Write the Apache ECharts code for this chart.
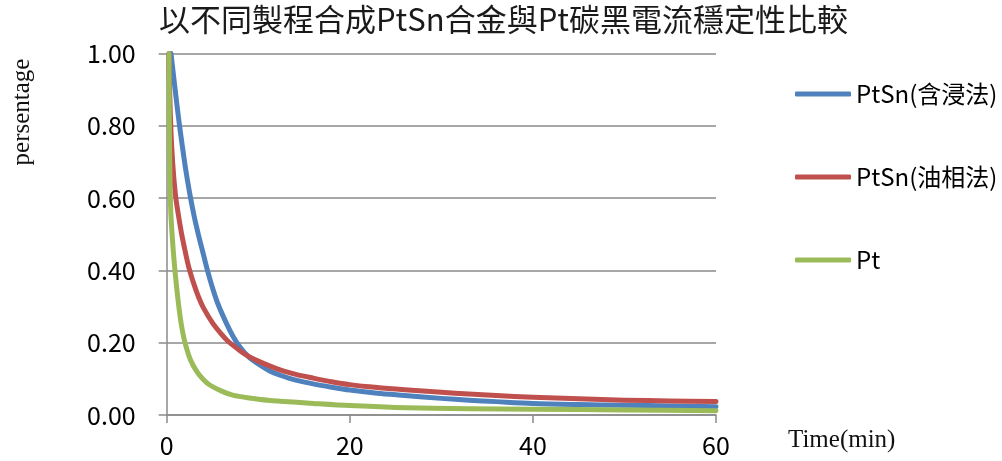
<!DOCTYPE html>
<html>
<head>
<meta charset="utf-8">
<script src="https://cdn.jsdelivr.net/npm/echarts@6/dist/echarts.min.js"></script>
<style>
  html, body { margin: 0; padding: 0; background: #fff; }
  #chart { width: 1002px; height: 461px; }
</style>
</head>
<body>
<div id="chart"></div>
<script>
// Current stability: normalised current vs time (min)
const seriesNames = ['PtSn(含浸法)', 'PtSn(油相法)', 'Pt'];

const timeImpregnation = [0.47, 0.9, 1.3, 1.7, 2.1, 2.5, 3.0, 3.5, 4.0, 4.4, 5.0, 5.6, 6.5, 7.3, 8.0, 8.9, 10, 11.3, 12.4, 14, 16, 18, 20, 23, 26, 30, 33, 36, 40, 45, 50, 55, 60];
const valueImpregnation = [1.00, 0.905, 0.82, 0.745, 0.675, 0.615, 0.55, 0.495, 0.445, 0.405, 0.352, 0.307, 0.255, 0.215, 0.188, 0.162, 0.141, 0.121, 0.11, 0.097, 0.086, 0.077, 0.069, 0.060, 0.054, 0.046, 0.041, 0.037, 0.032, 0.029, 0.027, 0.025, 0.023];

const timeOilPhase = [0.25, 0.3, 0.4, 0.55, 0.75, 1.0, 1.3, 1.6, 2.0, 2.4, 3.0, 3.5, 4.0, 5.0, 6.0, 6.7, 8.0, 8.9, 10, 11.3, 12.4, 14, 16, 18, 20, 23, 26, 30, 33, 36, 40, 45, 50, 55, 60];
const valueOilPhase = [1.00, 0.92, 0.83, 0.74, 0.665, 0.60, 0.55, 0.505, 0.455, 0.41, 0.36, 0.325, 0.297, 0.255, 0.223, 0.204, 0.178, 0.163, 0.149, 0.135, 0.125, 0.113, 0.102, 0.092, 0.084, 0.076, 0.070, 0.063, 0.058, 0.054, 0.049, 0.045, 0.041, 0.039, 0.037];

const timePt = [0.25, 0.28, 0.32, 0.38, 0.45, 0.55, 0.7, 0.9, 1.1, 1.3, 1.6, 2.0, 2.6, 3.3, 4.0, 4.7, 6.0, 7.2, 9.0, 11.3, 12.4, 16, 20, 25, 33, 40, 50, 60];
const valuePt = [1.00, 0.85, 0.72, 0.62, 0.56, 0.515, 0.46, 0.40, 0.35, 0.305, 0.25, 0.20, 0.152, 0.12, 0.098, 0.083, 0.066, 0.055, 0.047, 0.040, 0.038, 0.032, 0.026, 0.021, 0.017, 0.016, 0.014, 0.012];

const colors = ['#4F81BD', '#C0504D', '#9BBB59'];

function pairs(xs, ys) {
  return xs.map((x, i) => [x, ys[i]]);
}

const cjkFont = '"Noto Sans CJK TC", "Noto Sans", sans-serif';
const serifFont = '"Liberation Serif", "DejaVu Serif", serif';
const gridGray = '#8a8a8a';

const chart = echarts.init(document.getElementById('chart'), null, { renderer: 'canvas' });

function lineSeries(name, xs, ys, color) {
  return {
    name: name,
    type: 'line',
    data: pairs(xs, ys),
    showSymbol: false,
    symbol: 'none',
    smooth: 0.3,
    clip: false,
    lineStyle: { color: color, width: 5, cap: 'round', join: 'round' },
    itemStyle: { color: color }
  };
}

chart.setOption({
  animation: false,
  backgroundColor: '#ffffff',
  title: {
    text: '以不同製程合成PtSn合金與Pt碳黑電流穩定性比較',
    left: 159,
    top: 4,
    padding: 0,
    textStyle: { fontFamily: cjkFont, fontSize: 31, fontWeight: 'normal', color: '#1a1a1a' }
  },
  legend: {
    orient: 'vertical',
    left: 795,
    top: 82,
    padding: 0,
    itemGap: 59,
    itemWidth: 56,
    itemHeight: 5,
    icon: 'roundRect',
    data: seriesNames,
    textStyle: { fontFamily: cjkFont, fontSize: 24, color: '#000' }
  },
  grid: { left: 166.7, right: 286, top: 53.5, bottom: 46 },
  xAxis: {
    type: 'value',
    min: 0,
    max: 60,
    interval: 20,
    axisLine: { show: true, lineStyle: { color: gridGray, width: 1.5 } },
    axisTick: { show: true, length: 8, lineStyle: { color: gridGray, width: 1.5 } },
    axisLabel: { margin: 18, fontFamily: cjkFont, fontSize: 25, color: '#000' },
    splitLine: { show: false }
  },
  yAxis: {
    type: 'value',
    min: 0,
    max: 1,
    interval: 0.2,
    axisLine: { show: true, lineStyle: { color: gridGray, width: 1.5 } },
    axisTick: { show: true, length: 8, lineStyle: { color: gridGray, width: 1.5 } },
    axisLabel: {
      margin: 31,
      fontFamily: cjkFont,
      fontSize: 25,
      color: '#000',
      formatter: v => v.toFixed(2)
    },
    splitLine: { show: true, lineStyle: { color: gridGray, width: 1.5 } }
  },
  graphic: [
    {
      type: 'text',
      left: 788,
      top: 428,
      style: { text: 'Time(min)', font: '25px ' + serifFont, fill: '#111' }
    },
    {
      type: 'text',
      x: 22,
      y: 112,
      rotation: Math.PI / 2,
      style: {
        text: 'persentage',
        font: '25px ' + serifFont,
        fill: '#111',
        textAlign: 'center',
        textVerticalAlign: 'middle'
      }
    }
  ],
  series: [
    lineSeries(seriesNames[0], timeImpregnation, valueImpregnation, colors[0]),
    lineSeries(seriesNames[1], timeOilPhase, valueOilPhase, colors[1]),
    lineSeries(seriesNames[2], timePt, valuePt, colors[2])
  ]
});
</script>
</body>
</html>
